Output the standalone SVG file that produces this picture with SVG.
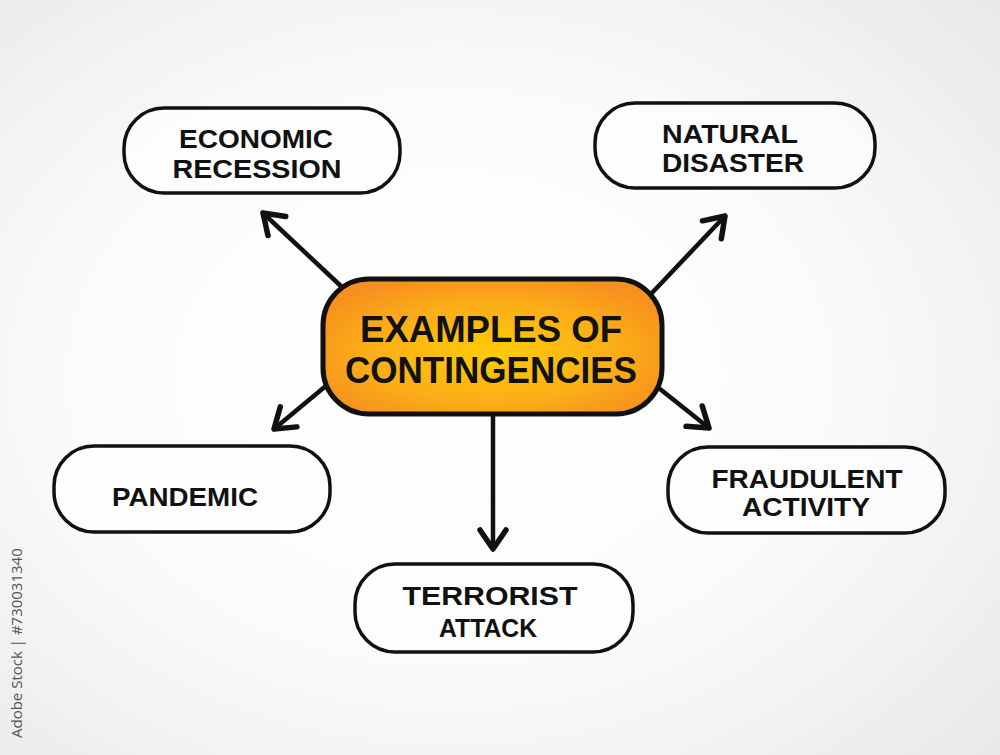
<svg xmlns="http://www.w3.org/2000/svg" width="1000" height="755" viewBox="0 0 1000 755">
  <defs>
    <radialGradient id="bg" cx="45%" cy="50%" r="75%">
      <stop offset="0" stop-color="#ffffff"/>
      <stop offset="0.5" stop-color="#fbfbfb"/>
      <stop offset="1" stop-color="#e8e8e8"/>
    </radialGradient>
    <radialGradient id="hub" cx="50%" cy="55%" r="60%">
      <stop offset="0" stop-color="#ffcc0a"/>
      <stop offset="0.6" stop-color="#fbae17"/>
      <stop offset="1" stop-color="#f7901e"/>
    </radialGradient>
    <marker id="arrow" markerUnits="userSpaceOnUse" markerWidth="40" markerHeight="40" viewBox="-25 -20 40 40" refX="0" refY="0" orient="auto">
      <path d="M-19,-13 L0,0 L-19,13" fill="none" stroke="#111" stroke-width="5.5" stroke-linecap="round" stroke-linejoin="round"/>
    </marker>
  </defs>
  <style>
    .box { fill: #ffffff; fill-opacity: 0.6; stroke: #111; stroke-width: 3.5; }
    .lbl { font-family: "Liberation Sans", Arial, sans-serif; font-weight: bold; font-size: 26px; fill: #111; text-anchor: middle; }
    .hubtxt { font-family: "Liberation Sans", Arial, sans-serif; font-weight: bold; font-size: 36px; fill: #111; text-anchor: middle; }
    .conn { fill: none; stroke: #111; stroke-width: 4.5; stroke-linecap: round; marker-end: url(#arrow); }
    .stock { font-family: "Open Sans", "Liberation Sans", sans-serif; font-size: 15px; fill: #555; }
  </style>

  <rect x="0" y="0" width="1000" height="755" fill="url(#bg)"/>

  <g id="connectors">
    <line class="conn" x1="343" y1="288" x2="263" y2="213"/>
    <line class="conn" x1="650" y1="295" x2="725" y2="216"/>
    <line class="conn" x1="327" y1="385" x2="274" y2="429"/>
    <line class="conn" x1="655" y1="385" x2="709" y2="428"/>
    <line class="conn" x1="493" y1="416" x2="493" y2="549"/>
  </g>

  <g id="hub-node">
    <rect x="323" y="279" width="339" height="135" rx="46" ry="46" fill="url(#hub)" stroke="#111" stroke-width="5"/>
    <text class="hubtxt" x="491" y="342" textLength="262" lengthAdjust="spacingAndGlyphs">EXAMPLES OF</text>
    <text class="hubtxt" x="491" y="383" textLength="292" lengthAdjust="spacingAndGlyphs">CONTINGENCIES</text>
  </g>

  <g id="node-economic">
    <rect class="box" x="124" y="108" width="276" height="85" rx="40" ry="40"/>
    <text class="lbl" x="256" y="148" textLength="154" lengthAdjust="spacingAndGlyphs">ECONOMIC</text>
    <text class="lbl" x="257" y="178" textLength="169" lengthAdjust="spacingAndGlyphs">RECESSION</text>
  </g>

  <g id="node-natural">
    <rect class="box" x="595" y="103" width="280" height="85" rx="40" ry="40"/>
    <text class="lbl" x="730" y="143" textLength="136" lengthAdjust="spacingAndGlyphs">NATURAL</text>
    <text class="lbl" x="733" y="172" textLength="142" lengthAdjust="spacingAndGlyphs">DISASTER</text>
  </g>

  <g id="node-pandemic">
    <rect class="box" x="54" y="446" width="276" height="86" rx="40" ry="40"/>
    <text class="lbl" x="185" y="506" font-size="30" textLength="146" lengthAdjust="spacingAndGlyphs">PANDEMIC</text>
  </g>

  <g id="node-fraudulent">
    <rect class="box" x="668" y="447" width="277" height="86" rx="40" ry="40"/>
    <text class="lbl" x="807" y="488" textLength="191" lengthAdjust="spacingAndGlyphs">FRAUDULENT</text>
    <text class="lbl" x="806" y="516" textLength="128" lengthAdjust="spacingAndGlyphs">ACTIVITY</text>
  </g>

  <g id="node-terrorist">
    <rect class="box" x="355" y="564" width="278" height="88" rx="40" ry="40"/>
    <text class="lbl" x="490" y="605" textLength="175" lengthAdjust="spacingAndGlyphs">TERRORIST</text>
    <text class="lbl" x="488" y="637" textLength="98" lengthAdjust="spacingAndGlyphs">ATTACK</text>
  </g>

  <text class="stock" transform="translate(22,738) rotate(-90)">Adobe Stock | #730031340</text>
</svg>
